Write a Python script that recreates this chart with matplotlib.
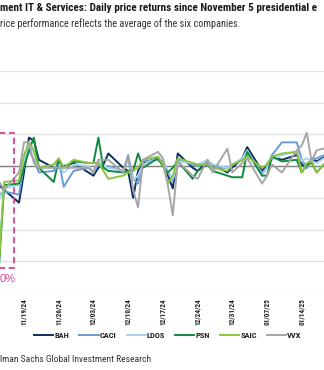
import matplotlib
matplotlib.use("Agg")
import matplotlib.pyplot as plt
import matplotlib.dates as mdates
from matplotlib import font_manager as fm
import numpy as np

plt.rcParams['font.family'] = ['Liberation Sans', 'DejaVu Sans']

# trading days shown (the chart is cropped at both sides)
dates = ["2024-11-14", "2024-11-15", "2024-11-18", "2024-11-19", "2024-11-20", "2024-11-21",
         "2024-11-22", "2024-11-25", "2024-11-26", "2024-11-27", "2024-11-29", "2024-12-02",
         "2024-12-03", "2024-12-04", "2024-12-05", "2024-12-06", "2024-12-09", "2024-12-10",
         "2024-12-11", "2024-12-12", "2024-12-13", "2024-12-16", "2024-12-17", "2024-12-18",
         "2024-12-19", "2024-12-20", "2024-12-23", "2024-12-24", "2024-12-26", "2024-12-27",
         "2024-12-30", "2024-12-31", "2025-01-02", "2025-01-03", "2025-01-06", "2025-01-07",
         "2025-01-08", "2025-01-10", "2025-01-13", "2025-01-14", "2025-01-15", "2025-01-16",
         "2025-01-17", "2025-01-21"]

# daily price returns, %
bah = [-1.2, -1.5, -2.3, -0.4, 1.8, 1.6, 0.4, -0.1, -0.1, 0.0, 0.2, -0.4, -0.6, -0.1, 0.1,
       0.8, -0.1, -0.3, -2.0, -0.3, 0.2, 0.5, 0.2, -0.6, -1.4, 0.8, -0.1, -0.3, 0.3, 0.1,
       -0.4, -0.1, 0.5, 1.2, -0.3, 0.1, 0.6, 0.4, 0.7, 0.1, -0.1, 0.5, 0.3, 1.0]
caci = [-1.8, -1.6, -1.8, 0.1, 1.0, 0.4, -0.4, -0.3, 0.4, -1.3, -0.3, -0.1, -0.4, 0.1, -0.1,
        0.0, -0.3, 0.7, -0.8, -1.1, 0.3, 0.4, 0.1, -0.4, -0.9, 0.4, 0.1, 0.0, 0.2, -0.1,
        -0.1, 0.1, 0.4, 0.9, -0.4, -0.1, 0.7, 1.5, 1.5, 0.4, -0.1, 0.4, 0.5, 1.0]
ldos = [-2.1, -1.4, -1.2, 0.4, 1.3, 0.9, -0.1, -0.1, 0.1, -0.4, 0.1, 0.0, -0.3, 0.3, 0.0,
        -0.1, -0.3, 0.4, -0.9, -0.6, 0.1, 0.5, 0.4, -0.3, -0.8, 0.3, 0.2, 0.1, 0.4, 0.1,
        -0.1, 0.1, 0.5, 1.0, -0.6, -0.1, 0.4, 0.7, 0.9, 0.3, 0.5, 0.3, 0.2, 1.0]
psn = [-6.1, -1.2, -1.1, -0.1, 1.0, 1.8, -0.1, -1.0, 0.4, -0.1, 0.3, 0.2, 0.2, 1.8, -0.1,
       -0.3, -0.4, -0.3, -0.3, 0.8, -0.1, 0.5, 0.0, -0.4, -0.1, 0.3, -0.8, -0.3, 0.1, -0.3,
       -0.6, -0.7, -0.7, 0.9, -0.6, -0.6, 0.6, 0.3, 0.4, -0.4, 0.1, 0.2, -0.4, 1.0]
saic = [-5.8, -1.0, -0.9, 0.7, 1.5, 1.0, -0.1, 0.1, 0.5, -0.1, 0.4, 0.2, 0.2, 0.2, -0.3,
        -0.8, -0.6, -0.4, -0.3, -0.1, 0.4, 0.6, 0.1, -1.1, -0.6, 0.5, 0.2, 0.1, 0.1, -0.1,
        -0.3, 0.1, 0.4, 0.6, -0.1, 0.1, 0.6, 0.8, 0.9, -0.4, 0.2, 0.3, -0.4, 1.0]
vvx = [-1.0, -1.5, -0.4, 1.5, 1.5, 0.2, -0.1, -0.1, -0.1, -0.1, -0.1, -0.1, -0.4, 0.4, 0.4,
       0.4, -0.4, 0.6, -1.5, -2.6, 0.4, 0.9, 0.5, -1.2, -3.1, 0.3, -0.6, -0.8, 0.4, -0.4,
       1.1, -0.4, 0.2, 0.5, -1.1, -0.6, 0.1, -0.4, 1.0, 1.3, 2.1, 0.3, 1.0, 1.3]

names = ["BAH", "CACI", "LDOS", "PSN", "SAIC", "VVX"]
colors = ["#0d2f5e", "#6b9bd2", "#a9d3f2", "#0f8a3f", "#8cc63f", "#a6a6a6"]
tick_dates = ["2024-11-19", "2024-11-26", "2024-12-03", "2024-12-10", "2024-12-17",
              "2024-12-24", "2024-12-31", "2025-01-07", "2025-01-14"]


def condensed(bold):
    # look for a narrow/condensed face; fall back to plain Liberation Sans
    prefs = ['Liberation Sans Narrow', 'Roboto Condensed', 'Open Sans Condensed',
             'DejaVu Sans Condensed', 'Noto Sans Condensed', 'Condensed', 'Narrow']
    found = []
    for f in fm.fontManager.ttflist:
        tag = (f.name + ' ' + f.fname.split('/')[-1]).replace('_', ' ')
        is_cond = ('Narrow' in tag or 'Condensed' in tag or str(f.stretch) == 'condensed')
        if not is_cond or f.style != 'normal' or 'Semi' in tag or 'Extra' in tag:
            continue
        w = f.weight if isinstance(f.weight, int) else {'bold': 700, 'normal': 400, 'regular': 400}.get(str(f.weight), 400)
        if (w >= 600) != bold or (not bold and w < 350):
            continue
        if bold and w > 750:
            continue
        rank = next((i for i, p in enumerate(prefs) if p.replace(' ', '') in tag.replace(' ', '')), 99)
        found.append((rank, f.fname))
    if found:
        return fm.FontProperties(fname=sorted(found)[0][1]), True
    return fm.FontProperties(family='Liberation Sans', weight='bold' if bold else 'normal'), False


fb, has_b = condensed(True)
fr, has_r = condensed(False)

x = mdates.datestr2num(dates)
t0 = mdates.datestr2num("2024-11-19")
px_day = 4.96

fig = plt.figure(figsize=(3.24, 3.70), dpi=100)
ax = fig.add_axes([0, 77 / 370, 1, 222 / 370])

for vals, name, c in zip([bah, caci, ldos, psn, saic, vvx], names, colors):
    ax.plot(x, vals, color=c, lw=1.4, label=name)

ax.axhline(0, color='#808080', lw=1.0, zorder=1.5)
ax.set_xlim(t0 - 24 / px_day, t0 + 300 / px_day)
ax.set_ylim(-8, 6)
ax.set_yticks(np.arange(-8, 7, 2))
ax.yaxis.grid(True, color='#e2e2e2', lw=1.0)
ax.set_axisbelow(True)
ax.tick_params(axis='y', length=0, labelleft=False)
ax.set_xticks(mdates.datestr2num(tick_dates))
ax.xaxis.set_major_formatter(mdates.DateFormatter('%m/%d/%y'))
ax.tick_params(axis='x', length=0, pad=4, labelcolor='#222222')
tsize = 5.2 if has_b else 4.6
for lab in ax.get_xticklabels():
    lab.set_rotation(90)
    lab.set_fontproperties(fb)
    lab.set_fontsize(tsize)
for s in ax.spines.values():
    s.set_visible(False)

# pink dashed box around the post-election drop (left part cropped)
pink = '#dd3f8e'
bx = t0 - 2.0
ax.plot([t0 - 20, bx, bx, t0 - 20], [2.1, 2.1, -6.4, -6.4], color=pink, lw=1.3,
        ls=(0, (3.5, 2)), zorder=5)
fig.text(0, 1 - 279 / 370, "0%", color=pink, fontsize=8, va='center', ha='left')

lp = fb.copy()
lp.set_size(6.0)
leg = ax.legend(loc='center', bbox_to_anchor=(168 / 324, 1 - 335 / 370), bbox_transform=fig.transFigure,
                ncol=6, frameon=False, prop=lp, handlelength=2.3, handletextpad=0.15,
                columnspacing=1.2, borderpad=0)
for t in leg.get_texts():
    t.set_color('#222222')

tp = fb.copy()
tp.set_size(8.0 if has_b else 6.6)
fig.text(0, 1 - 8 / 370, "ment IT & Services: Daily price returns since November 5 presidential e",
         fontproperties=tp, va='center', ha='left', color='#1a1a1a')
sp = fr.copy()
sp.set_size(7.4 if has_r else 6.6)
fig.text(0, 1 - 24 / 370, "rice performance reflects the average of the six companies.",
         fontproperties=sp, va='center', ha='left', color='#333333')
sp2 = fr.copy()
sp2.set_size(6.8 if has_r else 6.0)
fig.text(0, 1 - 359 / 370, "lman Sachs Global Investment Research",
         fontproperties=sp2, va='center', ha='left', color='#333333')

fig.savefig("out.png", dpi=100)
